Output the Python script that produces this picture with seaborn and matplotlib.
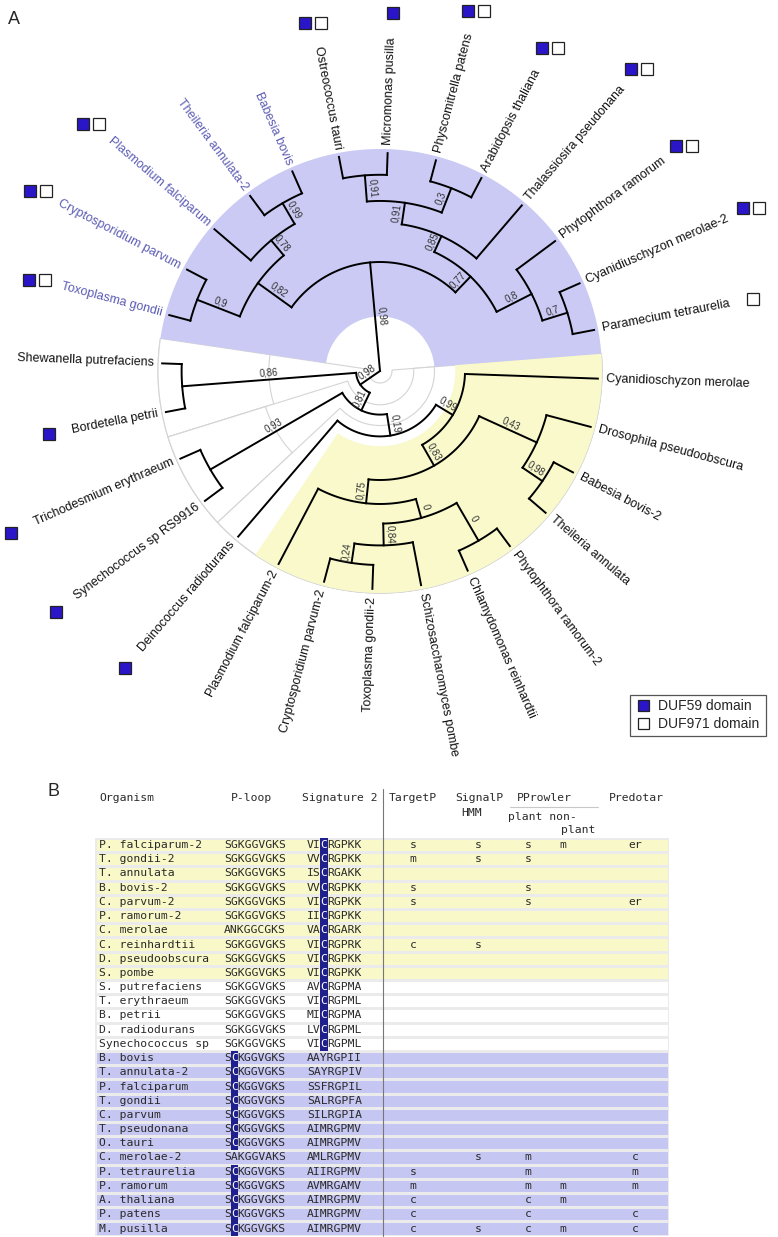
import numpy as np
import pandas as pd
import matplotlib
matplotlib.use("Agg")
import matplotlib.pyplot as plt
from matplotlib.colors import ListedColormap
from matplotlib.patches import Polygon, Rectangle
from matplotlib.textpath import TextPath
from matplotlib.font_manager import FontProperties
import seaborn as sns

# ---------------- Panel A: tree ----------------
# leaves, clockwise round the circle starting at Toxoplasma gondii
leaf_names = ["Toxoplasma gondii", "Cryptosporidium parvum", "Plasmodium falciparum",
              "Theileria annulata-2", "Babesia bovis", "Ostreococcus tauri",
              "Micromonas pusilla", "Physcomitrella patens", "Arabidopsis thaliana",
              "Thalassiosira pseudonana", "Phytophthora ramorum", "Cyanidiuschyzon merolae-2",
              "Paramecium tetraurelia", "Cyanidioschyzon merolae", "Drosophila pseudoobscura",
              "Babesia bovis-2", "Theileria annulata", "Phytophthora ramorum-2",
              "Chlamydomonas reinhardtii", "Schizosaccharomyces pombe", "Toxoplasma gondii-2",
              "Cryptosporidium parvum-2", "Plasmodium falciparum-2", "Deinococcus radiodurans",
              "Synechococcus sp RS9916", "Trichodesmium erythraeum", "Bordetella petrii",
              "Shewanella putrefaciens"]
leaf_parent = ["TC", "TC", "PTB", "TB", "TB", "OM", "OM", "PA", "PA", "Q", "R", "CP", "CP",
               "Y", "Y4", "BT", "BT", "Y7", "Y7", "Y6", "Y8", "Y8", "Y3", "D", "TS", "TS",
               "SB", "SB"]
apicomplexa = ["Toxoplasma gondii", "Cryptosporidium parvum", "Plasmodium falciparum",
               "Theileria annulata-2", "Babesia bovis"]

# internal nodes: parent, depth (fraction of tip radius), support
node_names = ["root", "B", "X", "TC", "PTB", "TB", "P", "Q", "Q2", "OM", "PA", "R", "CP",
              "E", "SB", "C", "TS", "D", "Y", "Y2", "Y3", "Y4", "BT", "Y5", "Y6", "Y8", "Y7"]
node_parent = [None, "root", "B", "X", "X", "PTB", "B", "P", "Q", "Q2", "Q2", "P", "R",
               "root", "E", "E", "C", "C", "D", "Y", "Y2", "Y2", "Y4", "Y3", "Y5", "Y6", "Y5"]
node_depth = [0.0, 0.50, 0.69, 0.90, 0.78, 0.89, 0.60, 0.68, 0.78, 0.90, 0.90, 0.78, 0.90,
              0.11, 0.91, 0.20, 0.90, 0.30, 0.39, 0.50, 0.61, 0.79, 0.90, 0.70, 0.80, 0.89, 0.90]
node_support = [np.nan, 0.98, 0.82, 0.9, 0.78, 0.99, 0.77, 0.85, 0.91, 0.91, 0.3, 0.8, 0.7,
                0.98, 0.86, 0.81, 0.93, 0.19, 0.99, 0.83, 0.75, 0.43, 0.98, 0, 0.84, 0.24, 0]

highlight_clades = {"B": "#cacaf4", "Y": "#f9f9cc"}
outline_clades = ["E", "SB", "C", "TS", "D"]

duf59 = ["Toxoplasma gondii", "Cryptosporidium parvum", "Plasmodium falciparum",
         "Ostreococcus tauri", "Micromonas pusilla", "Physcomitrella patens",
         "Arabidopsis thaliana", "Thalassiosira pseudonana", "Phytophthora ramorum",
         "Cyanidiuschyzon merolae-2", "Bordetella petrii", "Trichodesmium erythraeum",
         "Synechococcus sp RS9916", "Deinococcus radiodurans"]
duf971 = ["Toxoplasma gondii", "Cryptosporidium parvum", "Plasmodium falciparum",
          "Ostreococcus tauri", "Physcomitrella patens", "Arabidopsis thaliana",
          "Thalassiosira pseudonana", "Phytophthora ramorum", "Cyanidiuschyzon merolae-2",
          "Paramecium tetraurelia"]

# ---------------- Panel B: table ----------------
organisms = ["P. falciparum-2", "T. gondii-2", "T. annulata", "B. bovis-2", "C. parvum-2",
             "P. ramorum-2", "C. merolae", "C. reinhardtii", "D. pseudoobscura", "S. pombe",
             "S. putrefaciens", "T. erythraeum", "B. petrii", "D. radiodurans",
             "Synechococcus sp",
             "B. bovis", "T. annulata-2", "P. falciparum", "T. gondii", "C. parvum",
             "T. pseudonana", "O. tauri", "C. merolae-2", "P. tetraurelia", "P. ramorum",
             "A. thaliana", "P. patens", "M. pusilla"]
row_group = ["yellow"] * 10 + ["white"] * 5 + ["blue"] * 13
ploop = ["SGKGGVGKS"] * 6 + ["ANKGGCGKS"] + ["SGKGGVGKS"] * 8 + ["SCKGGVGKS"] * 7 + \
        ["SAKGGVAKS"] + ["SCKGGVGKS"] * 5
signature2 = ["VICRGPKK", "VVCRGPKK", "ISCRGAKK", "VVCRGPKK", "VICRGPKK", "IICRGPKK",
              "VACRGARK", "VICRGPRK", "VICRGPKK", "VICRGPKK", "AVCRGPMA", "VICRGPML",
              "MICRGPMA", "LVCRGPML", "VICRGPML", "AAYRGPII", "SAYRGPIV", "SSFRGPIL",
              "SALRGPFA", "SILRGPIA", "AIMRGPMV", "AIMRGPMV", "AMLRGPMV", "AIIRGPMV",
              "AVMRGAMV", "AIMRGPMV", "AIMRGPMV", "AIMRGPMV"]
targetp = ["s", "m", "", "s", "s", "", "", "c", "", "", "", "", "", "", "",
           "", "", "", "", "", "", "", "", "s", "m", "c", "c", "c"]
signalp = ["s", "s", "", "", "", "", "", "s", "", "", "", "", "", "", "",
           "", "", "", "", "", "", "", "s", "", "", "", "", "s"]
pp_plant = ["s", "s", "", "s", "s", "", "", "", "", "", "", "", "", "", "",
            "", "", "", "", "", "", "", "m", "m", "m", "c", "c", "c"]
pp_nonplant = ["m", "", "", "", "", "", "", "", "", "", "", "", "", "", "",
               "", "", "", "", "", "", "", "", "", "m", "m", "", "m"]
predotar = ["er", "", "", "", "er", "", "", "", "", "", "", "", "", "", "",
            "", "", "", "", "", "", "", "c", "m", "m", "", "c", "c"]

# ---------------- figure ----------------
sns.set_theme(style="white")
plt.rcParams["font.family"] = ["Liberation Sans", "DejaVu Sans"]

W, H = 778, 1237
fig = plt.figure(figsize=(W / 100, H / 100), dpi=100)

# table background via seaborn heatmap
ROW_TOP, ROW_H = 838, 14.2
TAB_L, TAB_R = 95, 669
n_rows = len(organisms)
tab_bot = ROW_TOP + n_rows * ROW_H
ax_tab = fig.add_axes([TAB_L / W, 1 - tab_bot / H, (TAB_R - TAB_L) / W, n_rows * ROW_H / H])
codes = pd.DataFrame({"group": [{"yellow": 0, "white": 1, "blue": 2}[g] for g in row_group]},
                     index=organisms)
sns.heatmap(codes, cmap=ListedColormap(["#f8f8c8", "#ffffff", "#c6c6f2"]), vmin=-0.5, vmax=2.5,
            cbar=False, linewidths=0.8, linecolor="#ebebeb", xticklabels=False,
            yticklabels=False, ax=ax_tab)
ax_tab.set_xlabel("")
ax_tab.set_ylabel("")

# overlay axes in pixel coordinates
ax = fig.add_axes([0, 0, 1, 1])
ax.set_xlim(0, W)
ax.set_ylim(H, 0)
ax.axis("off")
ax.patch.set_visible(False)

CX, CY = 380, 371
R_LEAF, R_LABEL = 218, 226
STEP = 360 / len(leaf_names)
A0 = 165.14


def pt(r, a):
    t = np.deg2rad(a)
    return CX + r * np.cos(t), CY - r * np.sin(t)


children = {n: [] for n in node_names}
for n, p in zip(node_names, node_parent):
    if p is not None:
        children[p].append(n)
for n, p in zip(leaf_names, leaf_parent):
    children[p].append(n)
parent = dict(zip(node_names, node_parent))
parent.update(dict(zip(leaf_names, leaf_parent)))
radius = {n: d * R_LEAF for n, d in zip(node_names, node_depth)}
radius.update({n: R_LEAF for n in leaf_names})
angle = {n: A0 - i * STEP for i, n in enumerate(leaf_names)}
span = {n: (angle[n], angle[n]) for n in leaf_names}


def place(n):
    if n in angle:
        return angle[n]
    a = [place(c) for c in children[n]]
    angle[n] = (min(a) + max(a)) / 2
    span[n] = (min(span[c][0] for c in children[n]), max(span[c][1] for c in children[n]))
    return angle[n]


place("root")


def sector(node, **kw):
    lo, hi = span[node]
    r0 = (radius[parent[node]] + radius[node]) / 2
    t = np.linspace(lo - STEP / 2, hi + STEP / 2, 200)
    pts = [pt(R_LEAF + 4, a) for a in t] + [pt(r0, a) for a in t[::-1]]
    ax.add_patch(Polygon(pts, closed=True, **kw))


for n in outline_clades:
    sector(n, facecolor="white", edgecolor="#d4d4d4", lw=0.8, zorder=1)
for n, col in highlight_clades.items():
    sector(n, facecolor=col, edgecolor="none", zorder=2)

# branches
for n in node_names:
    ch = [angle[c] for c in children[n]]
    r = radius[n]
    if r > 0:
        t = np.linspace(min(ch), max(ch), 100)
        xs, ys = pt(r, t)
        ax.plot(xs, ys, color="black", lw=1.4, solid_capstyle="projecting", zorder=4)
    for c in children[n]:
        (x0, y0), (x1, y1) = pt(r, angle[c]), pt(radius[c], angle[c])
        ax.plot([x0, x1], [y0, y1], color="black", lw=1.4, solid_capstyle="projecting",
                zorder=4)

# support values
for n, s in zip(node_names, node_support):
    if np.isnan(s):
        continue
    a = angle[n]
    rm = (radius[parent[n]] + radius[n]) / 2
    rot = ((a + 90) % 180) - 90
    x, y = pt(rm, a)
    off = np.deg2rad(rot + 90)
    x, y = x + 1.5 * np.cos(off), y - 1.5 * np.sin(off)
    ax.text(x, y, f"{s:g}".replace(".", ","), rotation=rot, rotation_mode="anchor",
            ha="center", va="bottom", fontsize=7, color="#333333", zorder=5)

# leaf labels and domain boxes
fp = FontProperties(family="Liberation Sans", size=9)
for name in leaf_names:
    a = angle[name]
    rot = ((a + 90) % 180) - 90
    ha = "left" if np.cos(np.deg2rad(a)) > 0 else "right"
    x, y = pt(R_LABEL, a)
    ax.text(x, y, name, rotation=rot, rotation_mode="anchor", ha=ha, va="center",
            fontsize=9, color="#5c5cb4" if name in apicomplexa else "#111111", zorder=5)
    boxes = [c for c, lst in (("#2a16c8", duf59), ("white", duf971)) if name in lst]
    if not boxes:
        continue
    wpx = TextPath((0, 0), name, prop=fp).get_extents().width * 100 / 72
    sx, sy = pt(R_LABEL + wpx + 26, a)
    for k, col in enumerate(boxes):
        dx = (k - (len(boxes) - 1) / 2) * 16
        ax.add_patch(Rectangle((sx + dx - 6, sy - 6), 12, 12, facecolor=col,
                               edgecolor="#222222", lw=0.9, zorder=5))

# legend
ax.add_patch(Rectangle((630, 695), 136, 41, facecolor="white", edgecolor="#555555", lw=0.9))
ax.add_patch(Rectangle((638, 700), 11, 11, facecolor="#2a16c8", edgecolor="#222222", lw=0.9))
ax.add_patch(Rectangle((638, 718), 11, 11, facecolor="white", edgecolor="#222222", lw=0.9))
ax.text(658, 705.5, "DUF59 domain", fontsize=10, va="center", ha="left")
ax.text(658, 723.5, "DUF971 domain", fontsize=10, va="center", ha="left")

ax.text(8, 19, "A", fontsize=13, va="center", ha="left")
ax.text(48, 791, "B", fontsize=13, va="center", ha="left")

# table text
mono = ["DejaVu Sans Mono"]
FS = 8.2
CW = FS * 100 / 72 * 0.602
TXT = "#2a2a2a"
HDR_Y = 798
for lab, x in [("Organism", 99), ("P-loop", 231), ("Signature 2", 302), ("TargetP", 389),
               ("SignalP", 455), ("PProwler", 517), ("Predotar", 609)]:
    ax.text(x, HDR_Y, lab, family=mono, fontsize=FS, va="center", color=TXT)
ax.text(461, 813, "HMM", family=mono, fontsize=FS, va="center", color=TXT)
ax.text(508, 817, "plant non-", family=mono, fontsize=FS, va="center", color=TXT)
ax.text(561, 830, "plant", family=mono, fontsize=FS, va="center", color=TXT)
ax.plot([510, 598], [806.5, 806.5], color="#c8c8c8", lw=0.8)
ax.plot([383, 383], [789, tab_bot], color="#777777", lw=0.8, zorder=3)

X_ORG, X_PL, X_SIG = 99, 224, 307
pred_cols = [(targetp, 413), (signalp, 478), (pp_plant, 528), (pp_nonplant, 563),
             (predotar, 635)]
for i, org in enumerate(organisms):
    yc = ROW_TOP + (i + 0.5) * ROW_H
    ax.text(X_ORG, yc, org, family=mono, fontsize=FS, va="center", color=TXT, zorder=4)
    for seq, x0, idx in ((ploop[i], X_PL, 1), (signature2[i], X_SIG, 2)):
        marked = seq[idx] == "C" and (idx == 2) == (row_group[i] != "blue")
        if not marked:
            ax.text(x0, yc, seq, family=mono, fontsize=FS, va="center", color=TXT, zorder=4)
            continue
        xs = x0 + idx * CW
        ax.add_patch(Rectangle((xs - 0.3, ROW_TOP + i * ROW_H), CW + 0.6, ROW_H,
                               facecolor="#20208c", edgecolor="none", zorder=4.5))
        ax.text(x0, yc, seq[:idx], family=mono, fontsize=FS, va="center", color=TXT, zorder=4)
        ax.text(xs, yc, seq[idx], family=mono, fontsize=FS, va="center", color="white",
                zorder=5)
        ax.text(xs + CW, yc, seq[idx + 1:], family=mono, fontsize=FS, va="center", color=TXT,
                zorder=4)
    for vals, x in pred_cols:
        if vals[i]:
            ax.text(x, yc, vals[i], family=mono, fontsize=FS, va="center", ha="center",
                    color=TXT, zorder=4)

fig.savefig("out.png", dpi=100)
